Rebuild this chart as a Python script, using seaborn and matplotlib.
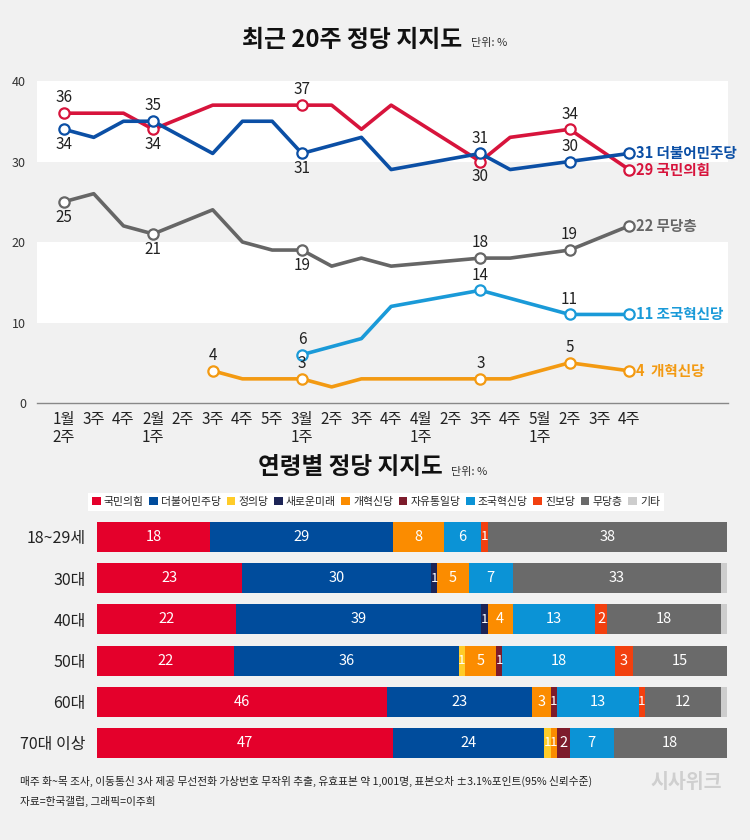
import numpy as np
import pandas as pd
import matplotlib
matplotlib.use("Agg")
import matplotlib.pyplot as plt
from matplotlib.patches import Patch
import seaborn as sns

sns.set_theme(style="white")
plt.rcParams["font.family"] = ["Noto Sans CJK KR", "DejaVu Sans"]

nan = np.nan
# ---------------- top chart data ----------------
weeks = ["1월\n2주", "3주", "4주", "2월\n1주", "2주", "3주", "4주", "5주", "3월\n1주", "2주",
         "3주", "4주", "4월\n1주", "2주", "3주", "4주", "5월\n1주", "2주", "3주", "4주"]
ppp = [36, 36, 36, 34, nan, 37, 37, 37, 37, 37, 34, 37, nan, nan, 30, 33, nan, 34, nan, 29]
dem = [34, 33, 35, 35, nan, 31, 35, 35, 31, 32, 33, 29, nan, nan, 31, 29, nan, 30, nan, 31]
indep = [25, 26, 22, 21, nan, 24, 20, 19, 19, 17, 18, 17, nan, nan, 18, 18, nan, 19, nan, 22]
cho = [nan, nan, nan, nan, nan, nan, nan, nan, 6, 7, 8, 12, nan, nan, 14, 13, nan, 11, nan, 11]
reform = [nan, nan, nan, nan, nan, 4, 3, 3, 3, 2, 3, 3, nan, nan, 3, 3, nan, 5, nan, 4]

series_names = ["국민의힘", "더불어민주당", "무당층", "조국혁신당", "개혁신당"]
series_vals = [ppp, dem, indep, cho, reform]
series_colors = ["#d7143c", "#0b4fa5", "#666666", "#1a9ad8", "#f39a12"]
# labeled points: (index, 'above'/'below')
label_pts = [
    [(0, "a"), (3, "b"), (8, "a"), (14, "b"), (17, "a")],
    [(0, "b"), (3, "a"), (8, "b"), (14, "a"), (17, "a")],
    [(0, "b"), (3, "b"), (8, "b"), (14, "a"), (17, "a")],
    [(8, "a"), (14, "a"), (17, "a")],
    [(5, "a"), (8, "a"), (14, "a"), (17, "a")],
]
end_labels = ["29 국민의힘", "31 더불어민주당", "22 무당층", "11 조국혁신당", "4  개혁신당"]

# ---------------- bottom chart data ----------------
ages = ["18~29세", "30대", "40대", "50대", "60대", "70대 이상"]
parties = ["국민의힘", "더불어민주당", "정의당", "새로운미래", "개혁신당", "자유통일당",
           "조국혁신당", "진보당", "무당층", "기타"]
party_colors = ["#e4002b", "#004c9c", "#ffcc29", "#1d2456", "#fb8c00", "#7d1c2c",
                "#0b93d6", "#f2400f", "#6a6a6a", "#cdcdcd"]
age_vals = {
    "국민의힘":   [18, 23, 22, 22, 46, 47],
    "더불어민주당": [29, 30, 39, 36, 23, 24],
    "정의당":     [0, 0, 0, 1, 0, 1],
    "새로운미래":  [0, 1, 1, 0, 0, 0],
    "개혁신당":   [8, 5, 4, 5, 3, 1],
    "자유통일당":  [0, 0, 0, 1, 1, 2],
    "조국혁신당":  [6, 7, 13, 18, 13, 7],
    "진보당":     [1, 0, 2, 3, 1, 0],
    "무당층":     [38, 33, 18, 15, 12, 18],
    "기타":      [0, 1, 1, 0, 1, 0],
}

BG = "#f1f1f1"
W, H = 750, 840
fig = plt.figure(figsize=(W / 100, H / 100), dpi=100)
fig.patch.set_facecolor(BG)


def fx(px):
    return px / W


def fy(py):
    return 1 - py / H


# ================= top line chart =================
ax = fig.add_axes([fx(37), fy(403), fx(728 - 37), (403 - 81) / H])
ax.set_facecolor(BG)
ax.axhspan(30, 40, color="white", zorder=0, lw=0)
ax.axhspan(10, 20, color="white", zorder=0, lw=0)

rows = []
for name, vals in zip(series_names, series_vals):
    for i, v in enumerate(vals):
        if not np.isnan(v):
            rows.append({"party": name, "idx": i, "val": v})
df = pd.DataFrame(rows)

sns.lineplot(data=df, x="idx", y="val", hue="party", hue_order=series_names,
             palette=dict(zip(series_names, series_colors)), linewidth=2.6,
             legend=False, ax=ax, zorder=3, estimator=None)

for name, vals, col, pts, endl in zip(series_names, series_vals, series_colors, label_pts, end_labels):
    idxs = [p[0] for p in pts] + [19]
    sub = pd.DataFrame({"idx": idxs, "val": [vals[i] for i in idxs]})
    sns.scatterplot(data=sub, x="idx", y="val", ax=ax, s=55, facecolor="white",
                    edgecolor=col, linewidth=1.6, zorder=4, legend=False)
    for i, pos in pts:
        off = 11 if pos == "a" else -11
        ax.annotate(f"{int(vals[i])}", (i, vals[i]), xytext=(0, off), textcoords="offset points",
                    ha="center", va="center", fontsize=11, color="#222222", zorder=5,
                    annotation_clip=False)
    ax.annotate(endl, (19, vals[19]), xytext=(5, 0), textcoords="offset points",
                ha="left", va="center", fontsize=10.5, fontweight="bold", color=col,
                zorder=5, annotation_clip=False)

ax.set_xlim((37 - 64) / 29.74, (728 - 64) / 29.74)
ax.set_ylim(0, 40)
ax.set_xticks(range(len(weeks)))
ax.set_xticklabels(weeks, fontsize=11, color="#222222", linespacing=1.05, va="top")
ax.set_yticks([0, 10, 20, 30, 40])
ax.set_yticklabels(["0", "10", "20", "30", "40"], fontsize=9, color="#333333")
ax.tick_params(axis="x", direction="in", length=5, width=0.8, color="#888888", pad=6)
ax.tick_params(axis="y", length=0, pad=8)
ax.set_xlabel("")
ax.set_ylabel("")
for s in ["top", "right", "left"]:
    ax.spines[s].set_visible(False)
ax.spines["bottom"].set_color("#888888")
ax.spines["bottom"].set_linewidth(1.0)

fig.text(fx(352), fy(40), "최근 20주 정당 지지도", ha="center", va="center",
         fontsize=17.2, fontweight="bold", color="#111111")
fig.text(fx(471), fy(43), "단위: %", ha="left", va="center", fontsize=8, color="#333333")

# ================= bottom stacked bars =================
bx = fig.add_axes([fx(97), fy(763.6), fx(630), (763.6 - 516.4) / H])
bx.set_facecolor(BG)
bdf = pd.DataFrame(age_vals, index=ages)
totals = bdf.sum(axis=1)
norm = bdf.div(totals, axis=0) * 100
cum = norm.cumsum(axis=1)

for p, col in reversed(list(zip(parties, party_colors))):
    d = pd.DataFrame({"age": ages, "x": cum[p].values})
    sns.barplot(data=d, x="x", y="age", orient="h", color=col, width=0.728,
                saturation=1, linewidth=0, ax=bx, order=ages)

for r, age in enumerate(ages):
    for p in parties:
        v = bdf.loc[age, p]
        if v > 0 and p != "기타":
            center = cum.loc[age, p] - norm.loc[age, p] / 2
            fs = 10.5 if norm.loc[age, p] > 1.5 else 9.5
            bx.text(center, r, f"{v}", ha="center", va="center", fontsize=fs,
                    color="white")

bx.set_xlim(0, 100)
bx.set_ylim(5.5, -0.5)
bx.set_xticks([])
bx.set_xlabel("")
bx.set_ylabel("")
bx.tick_params(axis="y", length=0, pad=8, labelsize=11.5, labelcolor="#222222")
for s in bx.spines.values():
    s.set_visible(False)

fig.text(fx(350), fy(467), "연령별 정당 지지도", ha="center", va="center",
         fontsize=17, fontweight="bold", color="#111111")
fig.text(fx(451), fy(472), "단위: %", ha="left", va="center", fontsize=8, color="#333333")

handles = [Patch(facecolor=c, edgecolor="none") for c in party_colors]
fig.legend(handles, parties, ncol=10, loc="center", bbox_to_anchor=(fx(376), fy(502)),
           frameon=True, facecolor="white", edgecolor="none", framealpha=1, fancybox=False,
           fontsize=7.8, handlelength=0.8, handleheight=0.8, columnspacing=0.5,
           handletextpad=0.3, borderpad=0.35)

# ================= footer =================
fig.text(fx(20), fy(781), "매주 화~목 조사, 이동통신 3사 제공 무선전화 가상번호 무작위 추출, 유효표본 약 1,001명, 표본오차 ±3.1%포인트(95% 신뢰수준)",
         ha="left", va="center", fontsize=7.7, color="#222222")
fig.text(fx(20), fy(801), "자료=한국갤럽, 그래픽=이주희", ha="left", va="center",
         fontsize=7.7, color="#222222")
fig.text(fx(650), fy(783), "시사위크", ha="left", va="center", fontsize=14,
         fontweight="bold", color="#cfcfcf")

fig.savefig("out.png", dpi=100, facecolor=BG)
